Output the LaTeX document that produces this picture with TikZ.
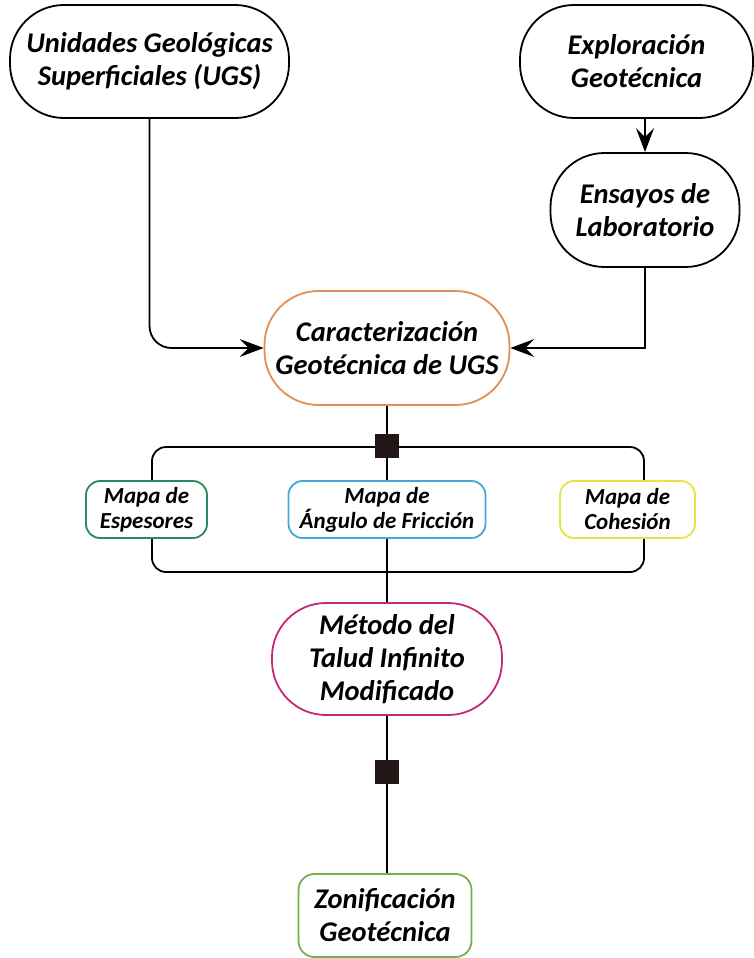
\documentclass[tikz,border=0pt]{standalone}
\usepackage{fontspec}
\setmainfont{Carlito}
\usetikzlibrary{arrows.meta,backgrounds}
\definecolor{naranja}{RGB}{226,142,84}
\definecolor{verdeosc}{RGB}{46,138,92}
\definecolor{celeste}{RGB}{66,168,214}
\definecolor{amarillo}{RGB}{232,228,70}
\definecolor{magenta}{RGB}{196,40,118}
\definecolor{verdecl}{RGB}{112,178,78}
\definecolor{nudo}{RGB}{34,22,22}
\tikzset{
  caja/.style={draw,line width=1.8pt,fill=white,align=center,inner sep=0pt,
    rounded corners=54pt,font=\fontsize{28.5}{33}\selectfont\bfseries\itshape},
  mapa/.style={caja,rounded corners=14pt,minimum height=57pt,
    font=\fontsize{23}{25}\selectfont\bfseries\itshape},
  linea/.style={line width=1.8pt},
  flecha/.style={linea,-{Stealth[length=24pt,width=18pt,inset=9pt]}},
  cuadro/.style={fill=nudo,minimum size=24pt,inner sep=0pt}
}
\begin{document}
\begin{tikzpicture}[x=1pt,y=-1pt]
\useasboundingbox (0,0) rectangle (754,958);
\node[caja,minimum width=279pt,minimum height=113pt] (ugs) at (149.5,61.5) {Unidades Geológicas\\Superficiales (UGS)};
\node[caja,minimum width=233pt,minimum height=113pt] (expl) at (636.5,61.5) {Exploración\\Geotécnica};
\node[caja,minimum width=189pt,minimum height=114pt] (lab) at (645,210) {Ensayos de\\Laboratorio};
\node[caja,draw=naranja,minimum width=245pt,minimum height=114pt] (carac) at (387,348) {Caracterización\\Geotécnica de UGS};
\node[mapa,draw=verdeosc,minimum width=121pt] (esp) at (146.5,509.5) {Mapa de\\Espesores};
\node[mapa,draw=celeste,minimum width=197pt] (ang) at (387,509.5) {Mapa de\\Ángulo de Fricción};
\node[mapa,draw=amarillo,minimum width=135pt] (coh) at (627.5,509.5) {Mapa de\\Cohesión};
\node[caja,draw=magenta,minimum width=230pt,minimum height=112pt] (met) at (387,659) {Método del\\Talud Infinito\\Modificado};
\node[caja,draw=verdecl,rounded corners=16pt,minimum width=173pt,minimum height=83pt] (zon) at (385,915.5) {Zonificación\\Geotécnica};
\begin{scope}[on background layer]
\node[draw,linea,rounded corners=14pt,minimum width=492pt,minimum height=125pt] (grupo) at (398,509.5) {};
\draw[linea] (carac.south) -- (met.north);
\draw[linea] (met.south) -- (met.south |- zon.north);
\end{scope}
\node[cuadro] (nudo1) at (grupo.north -| carac.south) {};
\node[cuadro] (nudo2) at (387,772) {};
\draw[flecha,rounded corners=22pt] (ugs.south) |- (carac.west);
\draw[flecha] (lab.south) |- (carac.east);
\draw[flecha] (expl.south -| lab.north) -- (lab.north);
\end{tikzpicture}
\end{document}
